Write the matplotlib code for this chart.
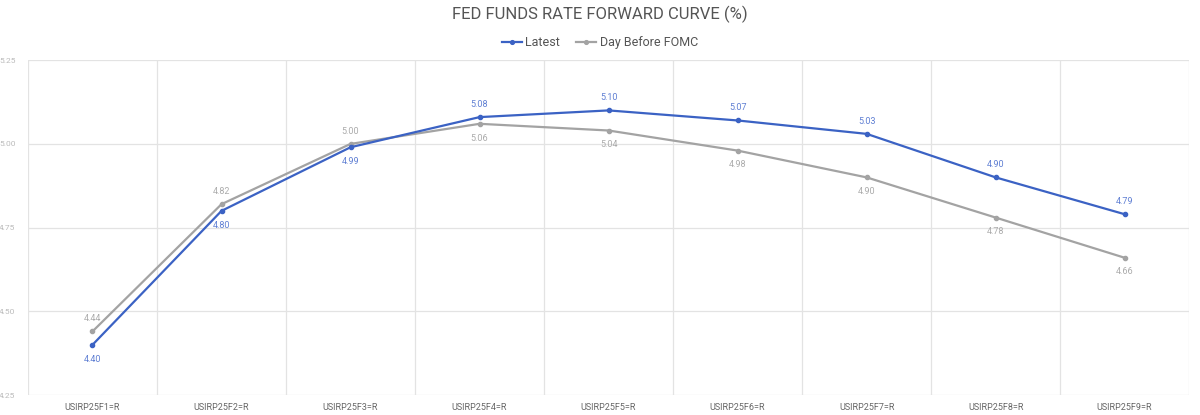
import numpy as np
import matplotlib.pyplot as plt

contracts = ['USIRP25F1=R', 'USIRP25F2=R', 'USIRP25F3=R', 'USIRP25F4=R', 'USIRP25F5=R',
             'USIRP25F6=R', 'USIRP25F7=R', 'USIRP25F8=R', 'USIRP25F9=R']
latest = [4.40, 4.80, 4.99, 5.08, 5.10, 5.07, 5.03, 4.90, 4.79]
day_before = [4.44, 4.82, 5.00, 5.06, 5.04, 4.98, 4.90, 4.78, 4.66]
yticks = [4.25, 4.50, 4.75, 5.00, 5.25]

plt.rcParams['font.family'] = ['Roboto', 'DejaVu Sans']

blue = '#3b62c4'
blue_lbl = '#5f7fd3'
gray = '#a3a3a3'
gray_lbl = '#ababab'
grid = '#e3e3e3'

fig = plt.figure(figsize=(12, 4.15), dpi=100)
ax = fig.add_axes([0.0233, 0.048, 0.9677, 0.807])

x = np.arange(len(contracts))
ax.plot(x, day_before, color=gray, lw=1.6, marker='o', ms=3, label='Day Before FOMC', zorder=3)
ax.plot(x, latest, color=blue, lw=1.6, marker='o', ms=3, label='Latest', zorder=4)

for i in range(len(x)):
    up_latest = i >= 3
    ax.annotate(f'{latest[i]:.2f}', (x[i], latest[i]), xytext=(0, 6 if up_latest else -7),
                textcoords='offset points', ha='center', va='bottom' if up_latest else 'top',
                fontsize=6.5, color=blue_lbl)
    ax.annotate(f'{day_before[i]:.2f}', (x[i], day_before[i]), xytext=(0, 6 if not up_latest else -7),
                textcoords='offset points', ha='center', va='bottom' if not up_latest else 'top',
                fontsize=6.5, color=gray_lbl)

ax.set_xlim(-0.5, len(x) - 0.5)
ax.set_ylim(4.25, 5.25)
ax.set_xticks(x)
ax.set_xticklabels(contracts, fontsize=6.5, color='#666666')
ax.set_xticks(np.arange(-0.5, len(x), 1), minor=True)
ax.set_yticks(yticks)
ax.set_yticklabels([f'{v:.2f}' for v in yticks], fontsize=6, color='#bbbbbb')
ax.tick_params(axis='both', which='both', length=0)
ax.tick_params(axis='x', pad=6)
ax.tick_params(axis='y', pad=9)
ax.grid(axis='y', color=grid, lw=0.9)
ax.grid(axis='x', which='minor', color=grid, lw=0.9)
for s in ax.spines.values():
    s.set_visible(False)

handles, labels = ax.get_legend_handles_labels()
fig.legend(handles[::-1], labels[::-1], loc='center', bbox_to_anchor=(0.5, 0.897), ncol=2,
           frameon=False, fontsize=9, labelcolor='#555555', handlelength=1.6,
           handletextpad=0.3, columnspacing=1.3, markerscale=0.9)
fig.suptitle('FED FUNDS RATE FORWARD CURVE (%)', y=0.985, fontsize=12, color='#555555')

fig.savefig('out.png')
